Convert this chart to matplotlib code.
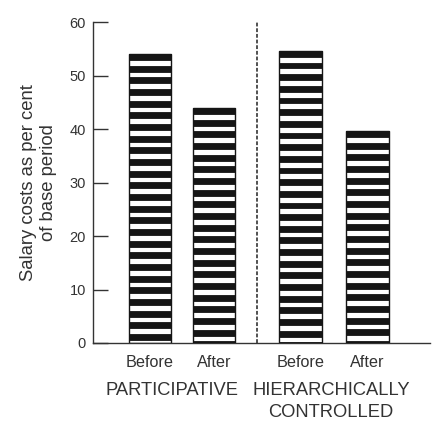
import matplotlib
matplotlib.use("Agg")
import matplotlib.pyplot as plt
import numpy as np

# ---- data ----
groups = ["PARTICIPATIVE", "HIERARCHICALLY\nCONTROLLED"]
bar_labels = ["Before", "After", "Before", "After"]
values = [54.0, 43.9, 54.6, 39.6]
yticks = [0, 10, 20, 30, 40, 50, 60]
ylabel = "Salary costs as per cent\nof base period"

# ---- layout / style ----
DPI = 100
W, H = 438, 423
positions = [0.0, 1.0, 2.35, 3.4]
bar_width = 0.66
divider_x = 1.67
group_x = [0.34, 2.83]
stripe_period = 2.18
stripe_black = 1.1

plt.rcParams['font.family'] = ['Liberation Sans', 'DejaVu Sans']
text_color = '#333333'
ink = '#151515'

fig = plt.figure(figsize=(W / DPI, H / DPI), dpi=DPI)
ax = fig.add_axes([93 / W, 1 - 343 / H, (430 - 93) / W, (343 - 22) / H])

# white bars with outline
ax.bar(positions, values, width=bar_width, color='white', edgecolor=ink,
       linewidth=1.0, zorder=2)
# horizontal black bands (styling of each bar, from its top downward)
for x, v in zip(positions, values):
    tops = np.arange(v, 0, -stripe_period)
    bottoms = np.clip(tops - stripe_black, 0, None)
    ax.bar([x] * len(tops), tops - bottoms, bottom=bottoms, width=bar_width,
           color=ink, edgecolor=ink, linewidth=0.6, zorder=3)

ax.plot([divider_x, divider_x], [0, 60], color='#222222', lw=1.1,
        linestyle=(0, (2.5, 1.2)), zorder=1)

ax.set_xlim(-0.89, 4.375)
ax.set_ylim(0, 60)
ax.set_yticks(yticks)
ax.set_xticks([])
ax.tick_params(axis='y', direction='in', length=11, width=1.0, color='#333333',
               labelsize=10.5, labelcolor=text_color, pad=5)
for s in ['top', 'right']:
    ax.spines[s].set_visible(False)
for s in ['left', 'bottom']:
    ax.spines[s].set_color('#333333')
    ax.spines[s].set_linewidth(1.0)
ax.spines['left'].set_zorder(4)

ax.set_ylabel(ylabel, fontsize=13.3, color=text_color, labelpad=9, linespacing=1.25)

for x, lab in zip(positions, bar_labels):
    ax.text(x, -4.5, lab, ha='center', va='baseline', fontsize=11.7,
            color=text_color, clip_on=False)

ax.text(group_x[0], -9.75, groups[0], ha='center', va='baseline', fontsize=13.2,
        color=text_color, clip_on=False)
ax.text(group_x[1], -9.75, groups[1].split("\n")[0], ha='center', va='baseline',
        fontsize=13.2, color=text_color, clip_on=False)
ax.text(group_x[1], -13.85, groups[1].split("\n")[1], ha='center', va='baseline',
        fontsize=13.2, color=text_color, clip_on=False)

fig.savefig("out.png", dpi=DPI)
